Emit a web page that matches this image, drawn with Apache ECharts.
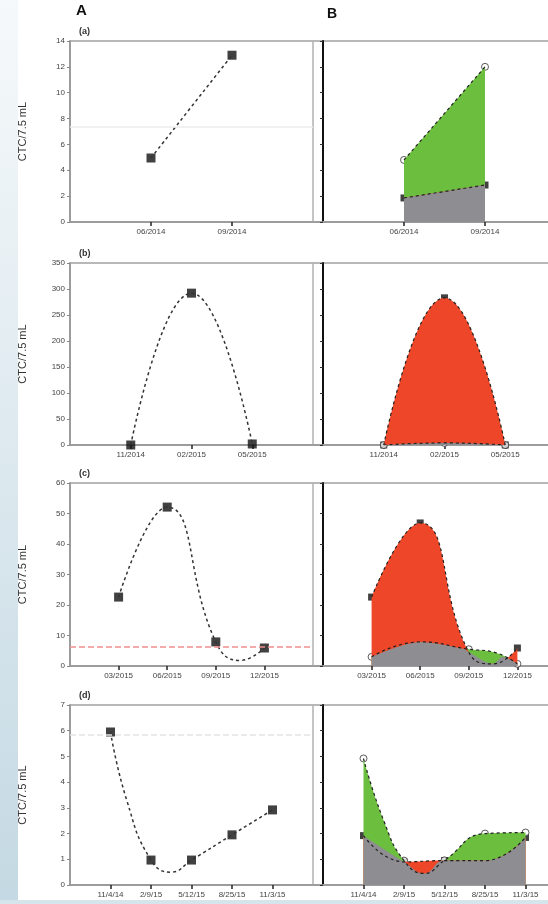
<!DOCTYPE html>
<html><head><meta charset="utf-8">
<script src="https://cdn.jsdelivr.net/npm/echarts/dist/echarts.min.js"></script>
<style>html,body{margin:0;padding:0;background:#fff;}#c{width:548px;height:904px;}</style>
</head><body><div id="c"></div>
<script>
// ---------- data ----------
// Row (a)
const labels1 = ["06/2014", "09/2014"];
const ctc1 = [4.95, 12.9];
const ref1 = 7.35;
const bWhite1 = [4.8, 12.0];
const bBlack1 = [1.86, 2.86];
const yMax1 = 14, yStep1 = 2;

// Row (b)
const labels2 = ["11/2014", "02/2015", "05/2015"];
const ctc2 = [0, 292, 2];
const bBlack2 = [0, 283, 0];
const bWhite2 = [0, 4, 0];
const yMax2 = 350, yStep2 = 50;

// Row (c)
const labels3 = ["03/2015", "06/2015", "09/2015", "12/2015"];
const ctc3 = [22.6, 52.1, 7.9, 5.9];
const curve3 = [[1, 22.6], [2, 52.1], [3, 7.9], [3.5, 1.8], [4, 5.9]];
const threshold3 = 6.2;
const bBlack3 = [22.6, 46.9, 4.5, 5.9];
const bBlackCurve3 = [[1, 22.6], [2, 46.9], [3, 4.5], [3.5, 0.7], [4, 5.9]];
const bWhite3 = [3.0, 7.9, 5.5, 0.7];
const bWhiteCurve3 = [[1, 3.0], [2, 7.9], [3, 5.5], [3.5, 4.6], [4, 0.7]];
const bFloor3 = [[1, 3.0], [2, 7.9], [2.9, 5.6], [3, 4.5], [3.5, 0.7], [3.7, 3.0], [4, 0.7]];
const yMax3 = 60, yStep3 = 10;

// Row (d)
const labels4 = ["11/4/14", "2/9/15", "5/12/15", "8/25/15", "11/3/15"];
const ctc4 = [5.95, 0.97, 0.97, 1.95, 2.92];
const curve4 = [[1, 5.95], [1.4, 3.3], [2, 0.97], [2.5, 0.5], [3, 0.97], [4, 1.95], [5, 2.92]];
const ref4 = 5.84;
const bWhite4 = [4.92, 0.95, 0.96, 2.0, 2.04];
const bWhiteCurve4 = [[1, 4.92], [1.5, 2.5], [2, 0.95], [2.5, 0.45], [3, 0.96], [4, 2.0], [5, 2.04]];
const bBlack4 = [1.92, 0.9, 0.95, 0.95, 1.85];
const bFloor4 = [[1, 1.92], [2, 0.9], [2.5, 0.45], [3, 0.95], [4, 0.95], [5, 1.85]];
const yMax4 = 7, yStep4 = 1;

const yName = "CTC/7.5 mL";

// ---------- build ----------
const GREEN = '#6cbf3e', RED = '#ee4628', GRAY = '#8d8d92';
const FONT = 'Liberation Sans, Arial, sans-serif';
const pts = arr => arr.map((v, i) => [i + 1, v]);

const rows = [
  {labels: labels1, ctc: pts(ctc1), curve: pts(ctc1), yMax: yMax1, yStep: yStep1,
   marks: [{v: ref1, color: '#ececec', type: 'solid'}],
   bW: pts(bWhite1), bWc: pts(bWhite1), bK: pts(bBlack1), bKc: pts(bBlack1), floor: pts(bBlack1)},
  {labels: labels2, ctc: pts(ctc2), curve: pts(ctc2), yMax: yMax2, yStep: yStep2, marks: [],
   bW: pts(bWhite2), bWc: pts(bWhite2), bK: pts(bBlack2), bKc: pts(bBlack2), floor: pts(bWhite2)},
  {labels: labels3, ctc: pts(ctc3), curve: curve3, yMax: yMax3, yStep: yStep3,
   marks: [{v: threshold3, color: '#ef8f8f', type: 'dashed'}],
   bW: pts(bWhite3), bWc: bWhiteCurve3, bK: pts(bBlack3), bKc: bBlackCurve3, floor: bFloor3},
  {labels: labels4, ctc: pts(ctc4), curve: curve4, yMax: yMax4, yStep: yStep4,
   marks: [{v: ref4, color: '#e4e4e4', type: 'dashed'}],
   bW: pts(bWhite4), bWc: bWhiteCurve4, bK: pts(bBlack4), bKc: pts(bBlack4), floor: bFloor4}
];
const rowTop = [41, 263, 483, 705];
const rowH = [181, 182, 183, 180];

const option = {animation: false, textStyle: {fontFamily: FONT}, grid: [], xAxis: [], yAxis: [], series: [], graphic: []};

rows.forEach((r, ri) => {
  const n = r.labels.length;
  const ticks = r.labels.map((_, i) => i + 1);
  [0, 1].forEach(side => {
    const gi = ri * 2 + side;
    option.grid.push({left: side ? 323 : 70, top: rowTop[ri], width: 243, height: rowH[ri], show: false, outerBoundsMode: 'none'});
    option.xAxis.push({
      gridIndex: gi, type: 'value', min: 0, max: n + 1, interval: 1,
      axisLine: {show: true, lineStyle: {color: '#9c9c9c', width: 2}},
      axisTick: {show: true, length: 4, customValues: ticks, lineStyle: {color: '#222', width: 1.5}},
      axisLabel: {fontSize: 8, color: '#444', margin: 6, customValues: ticks, hideOverlap: false,
                  formatter: v => r.labels[Math.round(v) - 1] || ''},
      splitLine: {show: false}
    });
    const y = {
      gridIndex: gi, type: 'value', min: 0, max: r.yMax, interval: r.yStep,
      axisLine: {show: true, lineStyle: {color: side ? '#111' : '#9c9c9c', width: 2}},
      axisTick: {show: true, length: 3, lineStyle: {color: side ? '#333' : '#888'}},
      axisLabel: {show: !side, fontSize: 8, color: '#444', margin: 5},
      splitLine: {show: false}
    };
    if (!side) Object.assign(y, {name: yName, nameLocation: 'middle', nameGap: 42, nameRotate: 90, nameMoveOverlap: false,
      nameTextStyle: {fontSize: 11, color: '#333'}});
    option.yAxis.push(y);
  });
  const a = ri * 2, b = ri * 2 + 1;
  // A panel
  option.series.push({
    type: 'line', xAxisIndex: a, yAxisIndex: a, data: r.curve, smooth: 0.5, showSymbol: false, silent: true,
    lineStyle: {color: '#333', width: 1.5, type: [3, 3]},
    markLine: r.marks.length ? {silent: true, symbol: 'none', label: {show: false},
      data: r.marks.map(m => ({yAxis: m.v, lineStyle: {color: m.color, type: m.type, width: 1.5}}))} : undefined
  });
  option.series.push({type: 'scatter', xAxisIndex: a, yAxisIndex: a, data: r.ctc, symbol: 'rect', symbolSize: 9,
    itemStyle: {color: '#111'}});
  // B panel fills
  const area = (data, color, sm) => ({type: 'line', xAxisIndex: b, yAxisIndex: b, data, smooth: sm, showSymbol: false, silent: true,
    lineStyle: {opacity: 0, width: 0}, areaStyle: {color, opacity: 1, origin: 'start'}});
  option.series.push(area(r.bWc, GREEN, 0.5));
  option.series.push(area(r.bKc, RED, 0.5));
  option.series.push(area(r.floor, GRAY, ri === 2 ? 0.3 : 0.5));
  const line = data => ({type: 'line', xAxisIndex: b, yAxisIndex: b, data, smooth: 0.5, showSymbol: false, silent: true,
    lineStyle: {color: '#222', width: 1.2, type: [3, 3]}});
  option.series.push(line(r.bWc));
  option.series.push(line(r.bKc));
  option.series.push({type: 'scatter', xAxisIndex: b, yAxisIndex: b, data: r.bK, symbol: 'rect', symbolSize: 7,
    itemStyle: {color: '#111'}});
  option.series.push({type: 'scatter', xAxisIndex: b, yAxisIndex: b, data: r.bW, symbol: 'circle', symbolSize: 7,
    itemStyle: {color: '#fff', borderColor: '#333', borderWidth: 1}});
  // frame decoration
  const t = rowTop[ri], h = rowH[ri];
  option.graphic.push({type: 'line', shape: {x1: 70, y1: t, x2: 548, y2: t}, style: {stroke: '#b8b8b8', lineWidth: 2}, silent: true});
  option.graphic.push({type: 'line', shape: {x1: 70, y1: t + h, x2: 548, y2: t + h}, style: {stroke: '#9c9c9c', lineWidth: 2}, silent: true, z: -1});
  option.graphic.push({type: 'line', shape: {x1: 313, y1: t, x2: 313, y2: t + h}, style: {stroke: '#b0b0b0', lineWidth: 1.5}, silent: true});
  option.graphic.push({type: 'text', left: 79, top: t - 14, style: {text: '(' + 'abcd'[ri] + ')', fontSize: 9, fontWeight: 'bold', fill: '#333', fontFamily: FONT}});
});

option.graphic.push({type: 'rect', shape: {x: 0, y: 0, width: 18, height: 904}, z: -10, silent: true,
  style: {fill: new echarts.graphic.LinearGradient(0, 0, 0, 1, [{offset: 0, color: '#f6f9fb'}, {offset: 1, color: '#c4d9e3'}])}});
option.graphic.push({type: 'rect', shape: {x: 0, y: 900, width: 548, height: 4}, z: -10, silent: true, style: {fill: '#d6e5ec'}});
option.graphic.push({type: 'text', left: 76, top: 3, style: {text: 'A', fontSize: 15, fontWeight: 'bold', fill: '#111', fontFamily: FONT}});
option.graphic.push({type: 'text', left: 327, top: 7, style: {text: 'B', fontSize: 14, fontWeight: 'bold', fill: '#111', fontFamily: FONT}});

const chart = echarts.init(document.getElementById('c'), null, {renderer: 'canvas'});
chart.setOption(option);
</script>
</body></html>
